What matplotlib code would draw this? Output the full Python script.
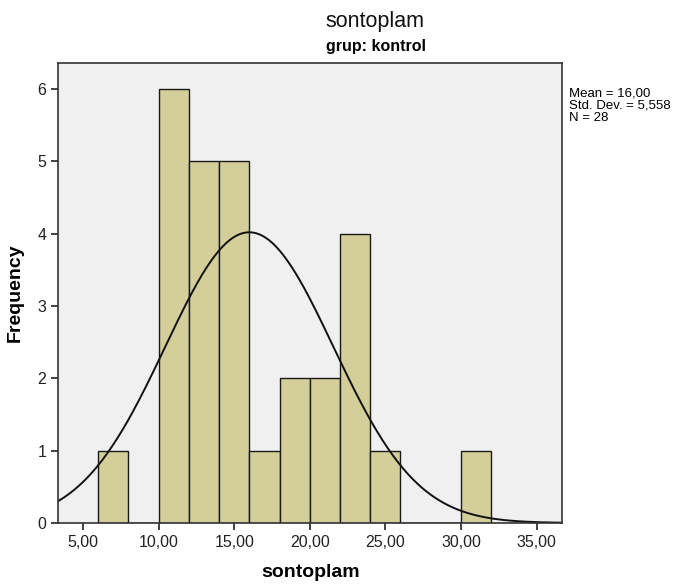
import numpy as np
import matplotlib.pyplot as plt

plt.rcParams['font.family'] = ['Liberation Sans', 'DejaVu Sans']

# histogram bins (width 2) and counts
bin_edges = [6, 8, 10, 12, 14, 16, 18, 20, 22, 24, 26, 28, 30, 32]
counts = [1, 0, 6, 5, 5, 1, 2, 2, 4, 1, 0, 0, 1]
mean = 16.00
std = 5.558
n = 28

x_ticks = [5, 10, 15, 20, 25, 30, 35]
x_labels = ['5,00', '10,00', '15,00', '20,00', '25,00', '30,00', '35,00']

fig = plt.figure(figsize=(6.75, 5.84), dpi=100)
ax = fig.add_axes([0.086, 0.1045, 0.747, 0.7876])
ax.set_facecolor('#F0F0F0')

lefts = bin_edges[:-1]
widths = np.diff(bin_edges)
ax.bar(lefts, counts, width=widths, align='edge', color='#D3CE9A',
       edgecolor='#1a1a1a', linewidth=1.0)

# fitted normal curve scaled to counts
xmin, xmax = 3.35, 36.7
xs = np.linspace(xmin, xmax, 400)
bw = bin_edges[1] - bin_edges[0]
ys = n * bw / (std * np.sqrt(2 * np.pi)) * np.exp(-0.5 * ((xs - mean) / std) ** 2)
ax.plot(xs, ys, color='#111111', linewidth=1.4)

ax.set_xlim(xmin, xmax)
ax.set_ylim(0, 6.36)
ax.set_xticks(x_ticks)
ax.set_xticklabels(x_labels)
ax.set_yticks(range(7))
ax.tick_params(direction='out', length=5, width=1.2, labelsize=11.5, colors='#222222')
for s in ax.spines.values():
    s.set_color('#333333')
    s.set_linewidth(1.2)

ax.set_xlabel('sontoplam', fontsize=14, fontweight='bold', labelpad=10)
ax.set_ylabel('Frequency', fontsize=14, fontweight='bold', labelpad=10)

fig.text(375 / 675, 1 - 21 / 584, 'sontoplam', ha='center', va='center',
         fontsize=15.5, color='#111111')
fig.text(376 / 675, 1 - 46 / 584, 'grup: kontrol', ha='center', va='center',
         fontsize=11.5, fontweight='bold')
fig.text(569 / 675, 1 - 88 / 584, 'Mean = 16,00\nStd. Dev. = 5,558\nN = 28',
         ha='left', va='top', fontsize=9.5, linespacing=1.0)

fig.savefig('out.png', dpi=100)
